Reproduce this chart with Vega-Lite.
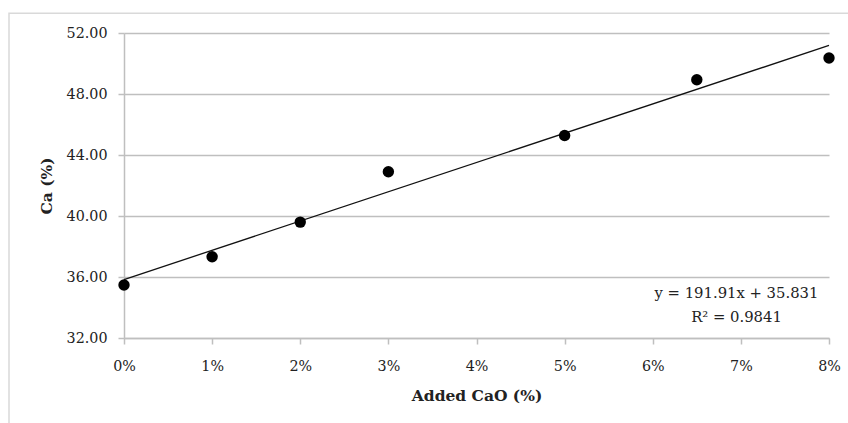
{
  "$schema": "https://vega.github.io/schema/vega-lite/v6.json",
  "width": 705,
  "height": 305,
  "autosize": {"type": "none"},
  "padding": {"left": 124, "top": 33, "right": 19, "bottom": 85},
  "background": "white",
  "config": {
    "view": {"stroke": null},
    "font": "DejaVu Serif",
    "axis": {
      "labelFont": "DejaVu Serif",
      "labelFontSize": 14.3,
      "labelColor": "#222222",
      "labelFlush": false,
      "titleFont": "DejaVu Serif",
      "titleFontSize": 15.5,
      "titleFontWeight": "bold",
      "titleColor": "#222222",
      "domainColor": "#bfbfbf",
      "domainWidth": 1.5,
      "tickColor": "#bfbfbf",
      "tickWidth": 1.5,
      "tickSize": 6,
      "gridColor": "#bfbfbf",
      "gridWidth": 1.5
    }
  },
  "datasets": {
    "measured": [
      {"added_cao": 0.0, "ca": 35.48},
      {"added_cao": 0.01, "ca": 37.33},
      {"added_cao": 0.02, "ca": 39.6},
      {"added_cao": 0.03, "ca": 42.9},
      {"added_cao": 0.05, "ca": 45.28},
      {"added_cao": 0.065, "ca": 48.93},
      {"added_cao": 0.08, "ca": 50.36}
    ],
    "trend": [
      {"added_cao": 0.0, "ca": 35.831},
      {"added_cao": 0.08, "ca": 51.184}
    ],
    "equation": [
      {"added_cao": 0.0695, "ca": 34.4, "label": ["y = 191.91x + 35.831", "R² = 0.9841"]}
    ]
  },
  "layer": [
    {
      "data": {"values": [{}]},
      "mark": {"type": "rect", "fill": null, "stroke": "#d9d9d9", "strokeWidth": 1.5, "clip": false},
      "encoding": {
        "x": {"datum": -0.01305, "type": "quantitative", "scale": {"domain": [0, 0.08]}},
        "x2": {"datum": 0.0835},
        "y": {"datum": 53.3, "type": "quantitative", "scale": {"domain": [32, 52]}},
        "y2": {"datum": 25}
      }
    },
    {
      "data": {"name": "trend"},
      "mark": {"type": "line", "color": "#111111", "strokeWidth": 1.3},
      "encoding": {
        "x": {
          "field": "added_cao",
          "type": "quantitative",
          "scale": {"domain": [0, 0.08], "nice": false},
          "axis": {
            "title": "Added CaO (%)",
            "format": ".0%",
            "values": [0, 0.01, 0.02, 0.03, 0.04, 0.05, 0.06, 0.07, 0.08],
            "grid": false,
            "labelPadding": 15,
            "titlePadding": 15
          }
        },
        "y": {
          "field": "ca",
          "type": "quantitative",
          "scale": {"domain": [32, 52], "nice": false, "zero": false},
          "axis": {
            "title": "Ca (%)",
            "format": ".2f",
            "values": [32, 36, 40, 44, 48, 52],
            "grid": true,
            "labelPadding": 11,
            "titlePadding": 12
          }
        }
      }
    },
    {
      "data": {"name": "measured"},
      "mark": {"type": "point", "filled": true, "color": "#000000", "size": 130, "opacity": 1},
      "encoding": {
        "x": {"field": "added_cao", "type": "quantitative"},
        "y": {"field": "ca", "type": "quantitative"}
      }
    },
    {
      "data": {"name": "equation"},
      "mark": {"type": "text", "font": "DejaVu Serif", "fontSize": 14.8, "color": "#222222", "align": "center", "baseline": "bottom", "lineHeight": 24},
      "encoding": {
        "x": {"field": "added_cao", "type": "quantitative"},
        "y": {"field": "ca", "type": "quantitative"},
        "text": {"field": "label"}
      }
    }
  ]
}
